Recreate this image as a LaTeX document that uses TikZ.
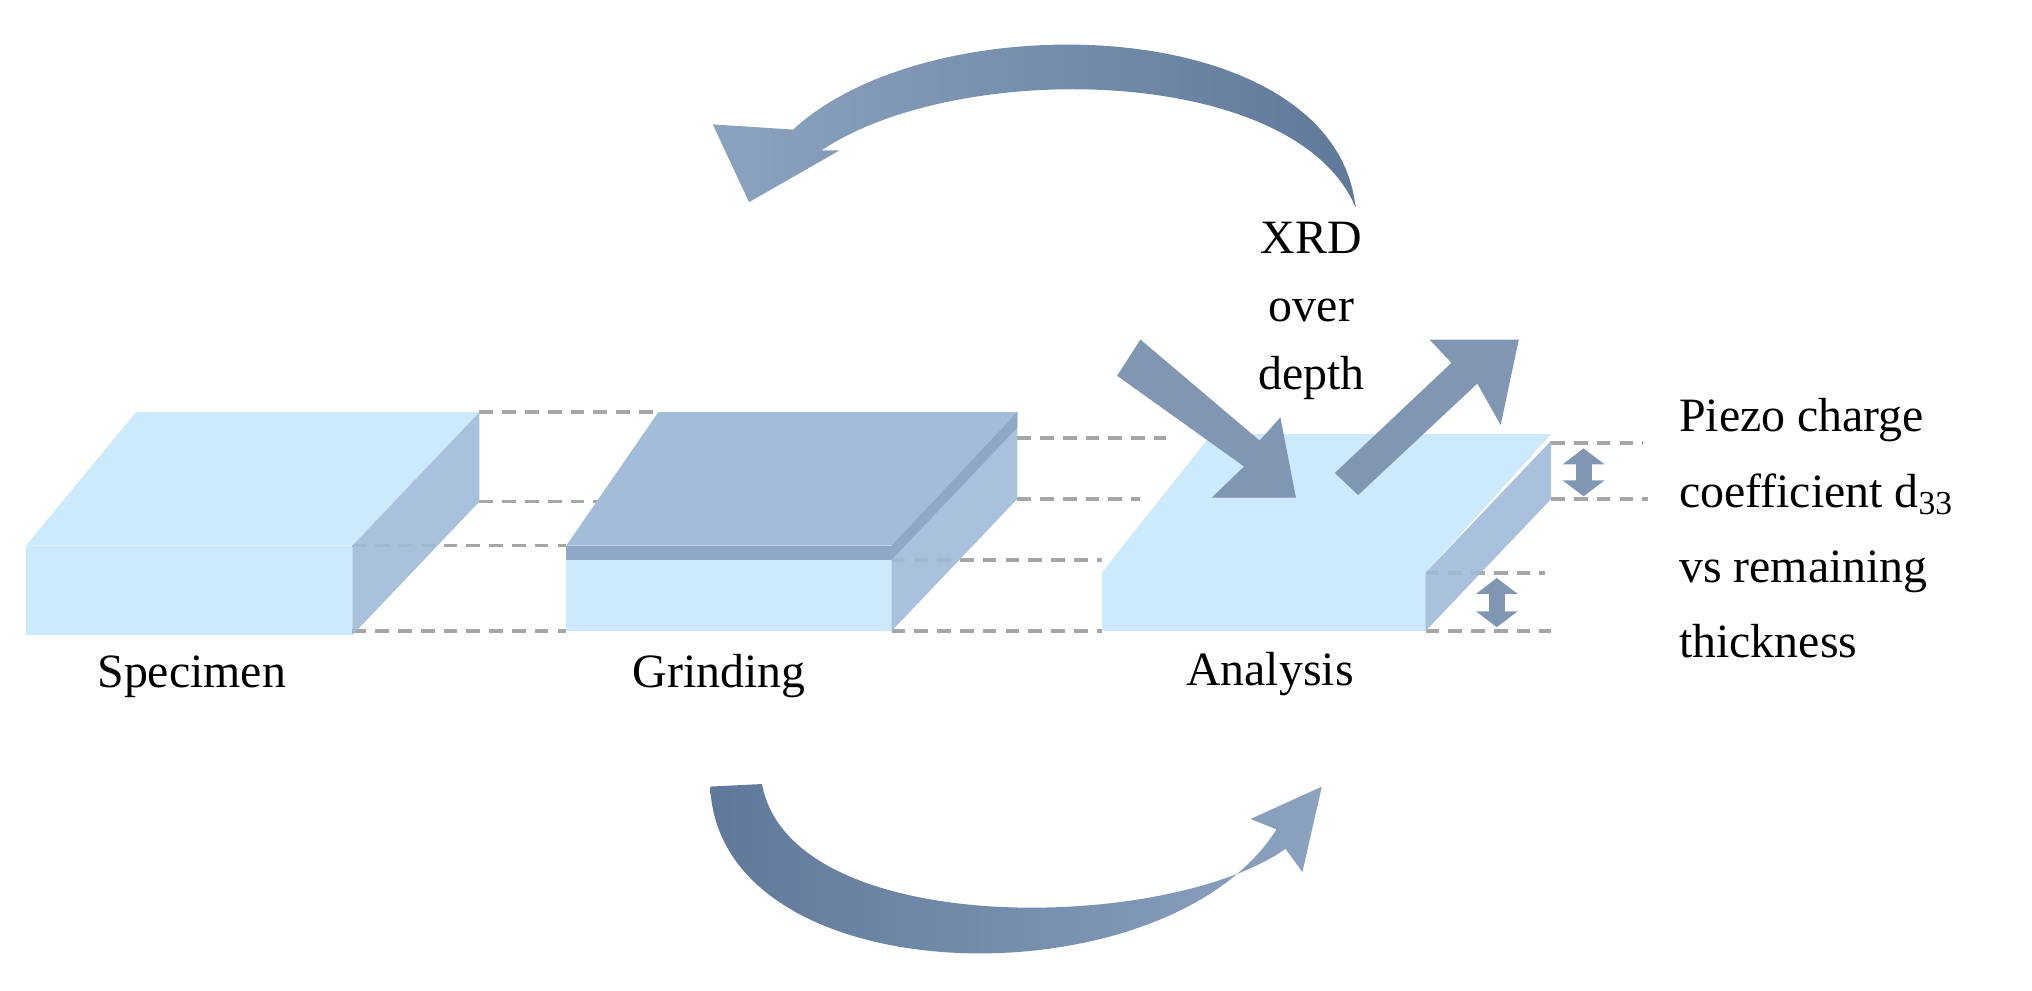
\documentclass[tikz,border=0pt]{standalone}
\usepackage{fontspec}
\setmainfont{Liberation Serif}
\usetikzlibrary{arrows.meta}
\begin{document}
\begin{tikzpicture}[x=0.01cm,y=-0.01cm,
  lightb/.style={fill={rgb,255:red,205;green,233;blue,252}},
  side/.style={fill={rgb,255:red,160;green,186;blue,216}, fill opacity=0.9},
  dark/.style={fill={rgb,255:red,163;green,188;blue,218}},
  band/.style={fill={rgb,255:red,143;green,168;blue,198}},
  guide/.style={draw=gray!70, densely dashed, line width=0.8pt},
  big/.style={fill={rgb,255:red,128;green,150;blue,178}, draw=none},
  lbl/.style={font=\fontsize{10.5pt}{15pt}\selectfont, inner sep=0pt},
  dbl/.style={{Triangle[length=3.5pt,width=9pt]}-{Triangle[length=3.5pt,width=9pt]}, draw={rgb,255:red,128;green,150;blue,178}, line width=3.5pt}]
\useasboundingbox (0,0) rectangle (1568,764);
% dashed guide lines
\draw[guide] (370,318) -- (508,318);
\draw[guide] (370,387) -- (475,387);
\draw[guide] (272,421) -- (437,421);
\draw[guide] (272,487) -- (437,487);
\draw[guide] (785,338) -- (900,338);
\draw[guide] (785,385) -- (880,385);
\draw[guide] (688,432) -- (850,432);
\draw[guide] (688,487) -- (850,487);
\draw[guide] (1197,342) -- (1268,342);
\draw[guide] (1197,385) -- (1272,385);
\draw[guide] (1100,442) -- (1192,442);
\draw[guide] (1100,487) -- (1197,487);
% specimen
\path[lightb] (20,421) -- (105,318) -- (370,318) -- (272,421) -- cycle;
\path[lightb] (20,421) rectangle (272,490);
\path[side] (272,421) -- (370,318) -- (370,387) -- (272,490) -- cycle;
% grinding
\path[lightb] (437,432) rectangle (688,487);
\path[dark] (437,421) -- (508,318) -- (785,318) -- (688,421) -- cycle;
\path[band] (437,421) rectangle (688,432);
\path[side] (688,421) -- (785,318) -- (785,385) -- (688,487) -- cycle;
\path[band] (688,421) -- (785,318) -- (785,330) -- (688,432) -- cycle;
% analysis
\path[lightb] (850,442) -- (935,335) -- (1197,335) -- (1100,442) -- cycle;
\path[lightb] (850,442) rectangle (1100,487);
\path[side] (1100,442) -- (1197,340) -- (1197,385) -- (1100,487) -- cycle;
% double arrows
\coordinate (a1) at (1222,346); \coordinate (a2) at (1222,383);
\coordinate (b1) at (1155,446); \coordinate (b2) at (1155,484);
\draw[dbl] (a1) -- (a2);
\draw[dbl] (b1) -- (b2);
% XRD arrows
\path[big] (880,262) -- (862,290) -- (960,360) -- (935,384) -- (1000,384) -- (988,322) -- (972,340) -- cycle;
\path[big] (1030,365) -- (1048,382) -- (1140,296) -- (1158,328) -- (1172,262) -- (1103,262) -- (1120,280) -- cycle;
% curved arrows
\path[left color={rgb,255:red,140;green,163;blue,192}, right color={rgb,255:red,96;green,121;blue,154}]
  (1046,160) .. controls (1030,10) and (720,0) .. (612,100) -- (550,96) -- (578,156) -- (648,116) -- (634,116)
  .. controls (740,45) and (1000,50) .. (1046,160) -- cycle;
\path[left color={rgb,255:red,96;green,121;blue,154}, right color={rgb,255:red,140;green,163;blue,192}]
  (548,607) .. controls (555,770) and (900,775) .. (985,640) -- (965,632) -- (1020,607) -- (1005,673) -- (992,655)
  .. controls (900,720) and (610,725) .. (588,605) -- cycle;
% labels
\node[lbl] (l1) at (148,522) {Specimen};
\node[lbl] (l2) at (555,522) {Grinding};
\node[lbl] (l3) at (980,520) {Analysis};
\node[lbl, align=center] (xrd) at (1012,240) {XRD\\over\\depth};
\node[lbl, align=left, anchor=north west, font=\fontsize{10.5pt}{16.5pt}\selectfont] (pz) at (1295,307) {Piezo charge\\coefficient d\textsubscript{33}\\vs remaining\\thickness};
\end{tikzpicture}
\end{document}
